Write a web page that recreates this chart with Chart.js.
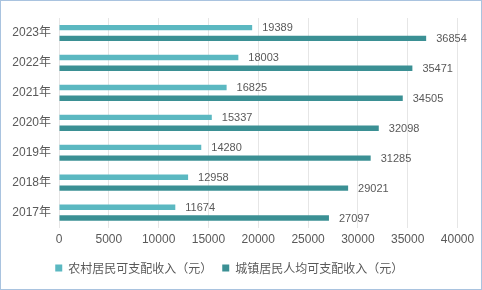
<!DOCTYPE html>
<html>
<head>
<meta charset="utf-8">
<script src="https://cdn.jsdelivr.net/npm/chart.js@4/dist/chart.umd.min.js"></script>
<style>
html,body{margin:0;padding:0;background:#fff;}
#wrap{position:absolute;left:0;top:0;width:482px;height:290px;box-sizing:border-box;border:1px solid #a9c3df;background:#fff;}
canvas{display:block;}
</style>
</head>
<body>
<div id="wrap"><canvas id="c" width="480" height="288"></canvas></div>
<script>
const categories = ['2023年','2022年','2021年','2020年','2019年','2018年','2017年'];
const ruralIncome = [19389, 18003, 16825, 15337, 14280, 12958, 11674];
const urbanIncome = [36854, 35471, 34505, 32098, 31285, 29021, 27097];
const seriesNames = ['农村居民可支配收入（元）', '城镇居民人均可支配收入（元）'];
const xTicks = [0, 5000, 10000, 15000, 20000, 25000, 30000, 35000, 40000];

const FONT = '"Liberation Sans", "Noto Sans CJK SC", sans-serif';
const GRAY = '#595959';

const valueLabels = {
  id: 'valueLabels',
  afterDatasetsDraw(chart) {
    const ctx = chart.ctx;
    ctx.save();
    ctx.font = '11px ' + FONT;
    ctx.fillStyle = GRAY;
    ctx.textAlign = 'left';
    ctx.textBaseline = 'middle';
    chart.data.datasets.forEach((ds, di) => {
      const meta = chart.getDatasetMeta(di);
      meta.data.forEach((bar, i) => {
        ctx.fillText(String(ds.data[i]), bar.x + 10, bar.y + 0.5);
      });
    });
    ctx.restore();
  }
};

new Chart(document.getElementById('c'), {
  type: 'bar',
  data: {
    labels: categories,
    datasets: [
      { label: seriesNames[0], data: ruralIncome, backgroundColor: '#5bb8c1', categoryPercentage: 0.72, barPercentage: 0.5 },
      { label: seriesNames[1], data: urbanIncome, backgroundColor: '#3b9094', categoryPercentage: 0.72, barPercentage: 0.5 }
    ]
  },
  options: {
    indexAxis: 'y',
    responsive: false,
    animation: false,
    devicePixelRatio: 1,
    layout: { padding: { top: 17, right: 23.5, bottom: 5, left: 0 } },
    plugins: {
      tooltip: { enabled: false },
      legend: {
        position: 'bottom',
        labels: {
          boxWidth: 7, boxHeight: 7, padding: 10,
          color: GRAY,
          font: { family: '"Noto Sans CJK SC", sans-serif', size: 12 }
        }
      }
    },
    scales: {
      x: {
        min: 0, max: 40000,
        afterBuildTicks(s) { s.ticks = xTicks.map(v => ({ value: v })); },
        ticks: { color: GRAY, font: { family: FONT, size: 12 }, padding: 5, maxRotation: 0, callback: v => String(v) },
        grid: { color: '#e6e6e6', drawTicks: false },
        border: { display: false }
      },
      y: {
        afterFit(s) { s.width = 58; },
        ticks: { color: GRAY, font: { family: FONT, size: 12 }, padding: 8 },
        grid: { display: false, drawTicks: false },
        border: { display: false }
      }
    }
  },
  plugins: [valueLabels]
});
</script>
</body>
</html>
